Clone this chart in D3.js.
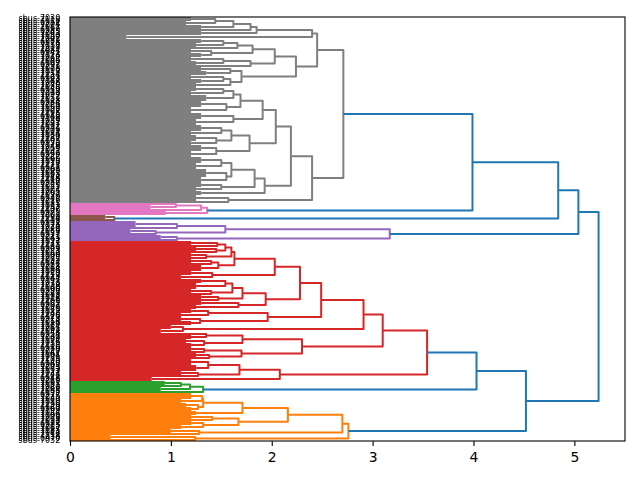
<!DOCTYPE html>
<html>
<head>
<meta charset="utf-8">
<script src="https://cdn.jsdelivr.net/npm/d3@7"></script>
<style>
body { margin: 0; background: #fff; }
svg { display: block; }
text { font-family: "DejaVu Sans", sans-serif; }
.leaf-labels { filter: grayscale(100%); }
</style>
</head>
<body>
<svg width="640" height="480"></svg>
<script>
// merge node: [height, upper, lower]; leaf bundle: {n: leaves, h: height of its internal merges}
var grayTree = [2.71,
    [2.45,
        [2.40,
            [1.85, [1.79, [1.62, [1.44, {n:2,h:1.2}, {n:2,h:1.15}], {n:2,h:1.3}], {n:1}], {n:2,h:1.3}],
            {n:2,h:0.56}],
        [2.24,
            [2.03,
                [1.81, [1.66, [1.52, {n:2,h:1.3}, {n:2,h:1.25}], {n:1}], [1.4, {n:2,h:1.2}, {n:2,h:1.3}]],
                [1.79, [1.52, {n:2,h:1.2}, {n:2,h:1.25}], {n:1}]],
            [1.70, [1.59, {n:2,h:1.3}, {n:2,h:1.35}], [1.59, [1.52, {n:2,h:1.2}, {n:2,h:1.3}], {n:2,h:1.25}]]]],
    [2.40,
        [2.19,
            [2.04,
                [1.91,
                    [1.69, [1.62, [1.52, {n:2,h:1.25}, {n:2,h:1.2}], {n:3,h:1.35}], [1.55, {n:3,h:1.3}, {n:3,h:1.2}]],
                    [1.62, {n:3,h:1.3}, {n:3,h:1.25}]],
                [1.78,
                    [1.6, [1.5, {n:3,h:1.3}, {n:2,h:1.2}], [1.45, {n:3,h:1.25}, {n:2,h:1.2}]],
                    [1.45, {n:3,h:1.3}, {n:3,h:1.2}]]],
            [1.93,
                [1.83,
                    [1.6, [1.5, {n:3,h:1.3}, {n:3,h:1.25}], [1.55, {n:4,h:1.35}, {n:3,h:1.3}]],
                    [1.5, {n:2,h:1.3}, {n:2,h:1.25}]],
                {n:2,h:1.3}]],
        [1.57, {n:3,h:1.25}, {n:1}]]];

var pinkTree = [1.36, [1.3, [1.05, {n:1}, {n:2,h:0.8}], {n:1}], {n:2,h:0.95}];

var brownTree = [0.44, {n:2,h:0.35}, {n:1}];

var purpleTree = [3.17,
    [1.54, [1.06, {n:3,h:0.65}, {n:1}], [0.85, {n:2,h:0.6}, {n:1}]],
    [1.06, {n:2,h:0.9}, {n:1}]];

var redTree = [3.54,
    [3.10,
        [2.91,
            [2.49,
                [2.28,
                    [2.03,
                        [1.63,
                            [1.60, [1.54, [1.46, {n:2,h:1.2}, {n:1}], [1.45, {n:2,h:1.25}, {n:1}]], [1.35, {n:2,h:1.2}, {n:1}]],
                            [1.47, [1.4, {n:2,h:1.2}, {n:1}], {n:3,h:1.3}]],
                        [1.41, {n:2,h:1.2}, {n:2,h:1.1}]],
                    [1.94,
                        [1.71, [1.61, [1.54, {n:2,h:1.3}, {n:3,h:1.25}], [1.4, {n:2,h:1.2}, {n:1}]], [1.47, {n:2,h:1.3}, {n:1}]],
                        [1.67, {n:2,h:1.3}, {n:2,h:1.25}]]],
                [1.96, [1.37, {n:2,h:1.2}, {n:2,h:1.1}], [1.29, {n:2,h:1.1}, {n:2,h:1.2}]]],
            [1.12, {n:2,h:1.0}, {n:2,h:0.9}]],
        [2.30,
            [1.71, [1.35, {n:1}, {n:2,h:1.2}], [1.33, {n:2,h:1.15}, {n:2,h:1.2}]],
            [1.70, [1.33, {n:2,h:1.2}, {n:1}], [1.38, {n:2,h:1.25}, {n:1}]]]],
    [2.08,
        [1.68, [1.37, {n:3,h:1.2}, {n:3,h:1.25}], [1.27, {n:2,h:1.1}, {n:1}]],
        {n:2,h:0.81}]];

var greenTree = [1.32, [1.19, [1.1, {n:2,h:0.94}, {n:1}], {n:2,h:0.9}], {n:1}];

var orangeTree = [2.76,
    [2.70,
        [2.16,
            [1.71, [1.32, [1.31, {n:3,h:1.2}, {n:2,h:1.1}], [1.27, {n:2,h:1.15}, {n:2,h:1.2}]], {n:2,h:1.25}],
            [1.67, [1.41, {n:2,h:1.2}, {n:1}], [1.32, {n:2,h:1.2}, {n:2,h:1.1}]]],
        [1.28, {n:2,h:1.0}, {n:1}]],
    [1.24, {n:2,h:0.4}, {n:1}]];

// links above the colour threshold
var topTree = [5.24,
    [5.04, [4.84, [3.99, 'gray', 'pink'], 'brown'], 'purple'],
    [4.52, [4.03, 'red', 'green'], 'orange']];

var clusterTrees  = {gray: grayTree, pink: pinkTree, brown: brownTree, purple: purpleTree,
                     red: redTree, green: greenTree, orange: orangeTree};
var clusterColors = {gray: '#7f7f7f', pink: '#e377c2', brown: '#8c564b', purple: '#9467bd',
                     red: '#d62728', green: '#2ca02c', orange: '#ff7f0e'};
var aboveColor = '#1f77b4';

var xTicks = [0, 1, 2, 3, 4, 5];

var labelPrefix = 'sbus-';
var leafIds = [
    7030,7118,6952,7204,7011,7167,6989,7245,7093,7150,7002,7281,6978,7136,7057,7219,7084,6941,7173,7026,
    7262,7045,7109,6967,7231,7078,7190,7013,7254,7121,6993,7187,7068,7240,7035,7146,6959,7213,7099,7272,
    7051,7128,6984,7226,7062,7159,7007,7268,7115,6946,7198,7039,7251,7087,7132,6971,7209,7074,7184,7020,
    7237,7103,6955,7176,7048,7259,7091,7142,6999,7222,7066,7195,7016,7277,7124,6963,7206,7081,7163,7042,
    7248,7110,6987,7229,7055,7171,7004,7265,7097,7139,6949,7216,7071,7181,7033,7257,7106,6975,7201,7060,
    7234,7119,6991,7178,7024,7270,7086,7153,6957,7211,7043,7192,7077,7243,7131,6969,7223,7052,7169,7009,
    7275,7095,7144,6981,7218,7064,7186,7029,7250,7113,6944,7197,7073,7239,7038,7160,6996,7227,7089,7134,
    7018,7266,7101,6962,7207,7049,7179,7083,7246,7126,6973,7214,7058,7189,7014,7261,7092,7148,6954,7232,
    7069,7174,7036,7255,7116,6986,7220,7047,7164,7001,7279,7105,7140,6965,7203,7075,7193,7027,7244,7122,
    6948,7210,7061,7183,7021,7269,7088,7155,6977,7225,7040,7170,7080,7236,7129,6960,7199,7054,7166,7006,
    7273,7098,7137,6983,7215,7067,7185,7044,7112,7258,6970,7032
];

var padLeft = 70, padRight = 625, padTop = 17, padBottom = 441;
var lw = 2;

// walk the tree: leaves get consecutive slots, every merge becomes a U link
var out = {next: 0, bundles: [], links: []};
function layout(node, color) {
    if (typeof node === 'string') return layout(clusterTrees[node], clusterColors[node]);
    if (!Array.isArray(node)) {
        var start = out.next;
        out.next += node.n;
        var h = node.h || 0;
        if (node.n > 1) out.bundles.push({start: start, n: node.n, h: h, color: color});
        return {y: start + node.n / 2, h: h};
    }
    var a = layout(node[1], color);
    var b = layout(node[2], color);
    out.links.push({a: a, b: b, h: node[0], color: color});
    return {y: (a.y + b.y) / 2, h: node[0]};
}
layout(topTree, aboveColor);
var nLeaves = out.next;

var xScale = d3.scaleLinear()
                .domain([0, topTree[0] * 1.05])
                .range([padLeft, padRight]);
var yScale = d3.scaleLinear()
                .domain([0, nLeaves])
                .range([padTop, padBottom]);

var svg = d3.select('svg');

svg.append('g')
    .selectAll('rect')
    .data(out.bundles)
    .enter()
    .append('rect')
        .attr('x', xScale(0))
        .attr('y', d => yScale(d.start + 0.5) - lw / 2)
        .attr('width', d => xScale(d.h) - xScale(0))
        .attr('height', d => yScale(d.start + d.n - 0.5) - yScale(d.start + 0.5) + lw)
        .attr('fill', d => d.color);

svg.append('g')
    .selectAll('path')
    .data(out.links)
    .enter()
    .append('path')
        .attr('d', d => 'M' + xScale(d.a.h) + ',' + yScale(d.a.y) +
                        'L' + xScale(d.h) + ',' + yScale(d.a.y) +
                        'L' + xScale(d.h) + ',' + yScale(d.b.y) +
                        'L' + xScale(d.b.h) + ',' + yScale(d.b.y))
        .attr('fill', 'none')
        .attr('stroke', d => d.color)
        .attr('stroke-width', lw)
        .attr('stroke-linejoin', 'round');

// leaf labels (tick marks hidden, as in the original)
svg.append('g')
        .attr('class', 'leaf-labels')
    .selectAll('text')
    .data(leafIds)
    .enter()
    .append('text')
        .attr('x', padLeft - 9.7)
        .attr('y', (d, i) => yScale(i + 0.5))
        .attr('dy', '0.36em')
        .attr('text-anchor', 'end')
        .attr('font-size', '8px')
        .attr('fill', '#000')
        .text(d => labelPrefix + d);

var xAxis = d3.axisBottom(xScale)
                .tickValues(xTicks)
                .tickFormat(d3.format('d'))
                .tickSize(4.9)
                .tickPadding(6.2)
                .tickSizeOuter(0);

var gx = svg.append('g')
    .attr('transform', 'translate(0,' + padBottom + ')')
    .call(xAxis);
gx.select('.domain').remove();
gx.selectAll('line').attr('stroke-width', 1.1);
gx.selectAll('text')
    .attr('font-size', '13.9px')
    .attr('font-family', '"DejaVu Sans", sans-serif')
    .attr('fill', '#000');

svg.append('rect')
    .attr('x', padLeft)
    .attr('y', padTop)
    .attr('width', padRight - padLeft)
    .attr('height', padBottom - padTop)
    .attr('fill', 'none')
    .attr('stroke', '#000')
    .attr('stroke-width', 1.1);
</script>
</body>
</html>
